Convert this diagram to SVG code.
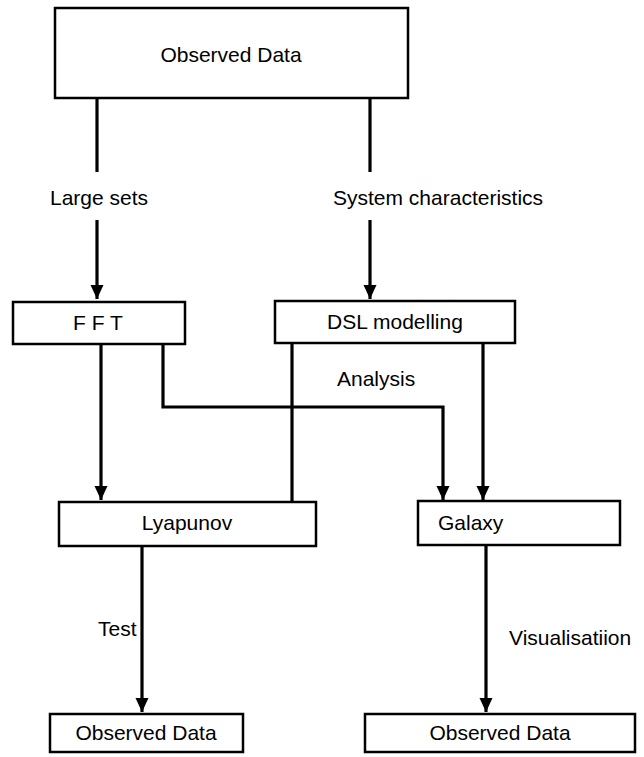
<svg xmlns="http://www.w3.org/2000/svg" width="644" height="757" viewBox="0 0 644 757">
<style>
.box{fill:#fff;stroke:#000;stroke-width:2.5}
.t{font-family:"Liberation Sans",Arial,sans-serif;font-size:21px;fill:#000}
.c{text-anchor:middle}
.ln{fill:none;stroke:#000;stroke-width:3.2}
</style>
<defs>
<marker id="ah" markerUnits="userSpaceOnUse" markerWidth="14" markerHeight="14" refX="14" refY="6.5" orient="auto">
<path d="M0,0 L14,6.5 L0,13 Z" fill="#000"/>
</marker>
</defs>
<g id="connectors">
<path class="ln" d="M97,98 V172"/>
<path class="ln" d="M97,220 V299" marker-end="url(#ah)"/>
<path class="ln" d="M370,98 V172"/>
<path class="ln" d="M370,220 V299" marker-end="url(#ah)"/>
<path class="ln" d="M101,344 V500" marker-end="url(#ah)"/>
<path class="ln" d="M163,344 V407 H443 V500" marker-end="url(#ah)"/>
<path class="ln" d="M292,343 V502"/>
<path class="ln" d="M483,343 V500" marker-end="url(#ah)"/>
<path class="ln" d="M142,546 V712" marker-end="url(#ah)"/>
<path class="ln" d="M486,545 V712" marker-end="url(#ah)"/>
<text class="t" x="50" y="205">Large sets</text>
<text class="t" x="333" y="205">System characteristics</text>
<text class="t" x="337" y="386">Analysis</text>
<text class="t" x="98" y="636">Test</text>
<text class="t" x="509" y="645">Visualisatiion</text>
</g>
<g id="observed-top">
<rect class="box" x="55" y="8" width="353" height="90"/>
<text class="t c" x="231" y="62">Observed Data</text>
</g>
<g id="fft">
<rect class="box" x="13" y="302" width="172" height="42"/>
<text class="t c" x="98" y="330">F F T</text>
</g>
<g id="dsl">
<rect class="box" x="275" y="301" width="240" height="42"/>
<text class="t c" x="395" y="329">DSL modelling</text>
</g>
<g id="lyapunov">
<rect class="box" x="59" y="502" width="257" height="44"/>
<text class="t c" x="187" y="530">Lyapunov</text>
</g>
<g id="galaxy">
<rect class="box" x="418" y="501" width="202" height="44"/>
<text class="t" x="438" y="530">Galaxy</text>
</g>
<g id="observed-left">
<rect class="box" x="50" y="714" width="193" height="38"/>
<text class="t c" x="146" y="740">Observed Data</text>
</g>
<g id="observed-right">
<rect class="box" x="365" y="714" width="270" height="38"/>
<text class="t c" x="500" y="740">Observed Data</text>
</g>
</svg>
